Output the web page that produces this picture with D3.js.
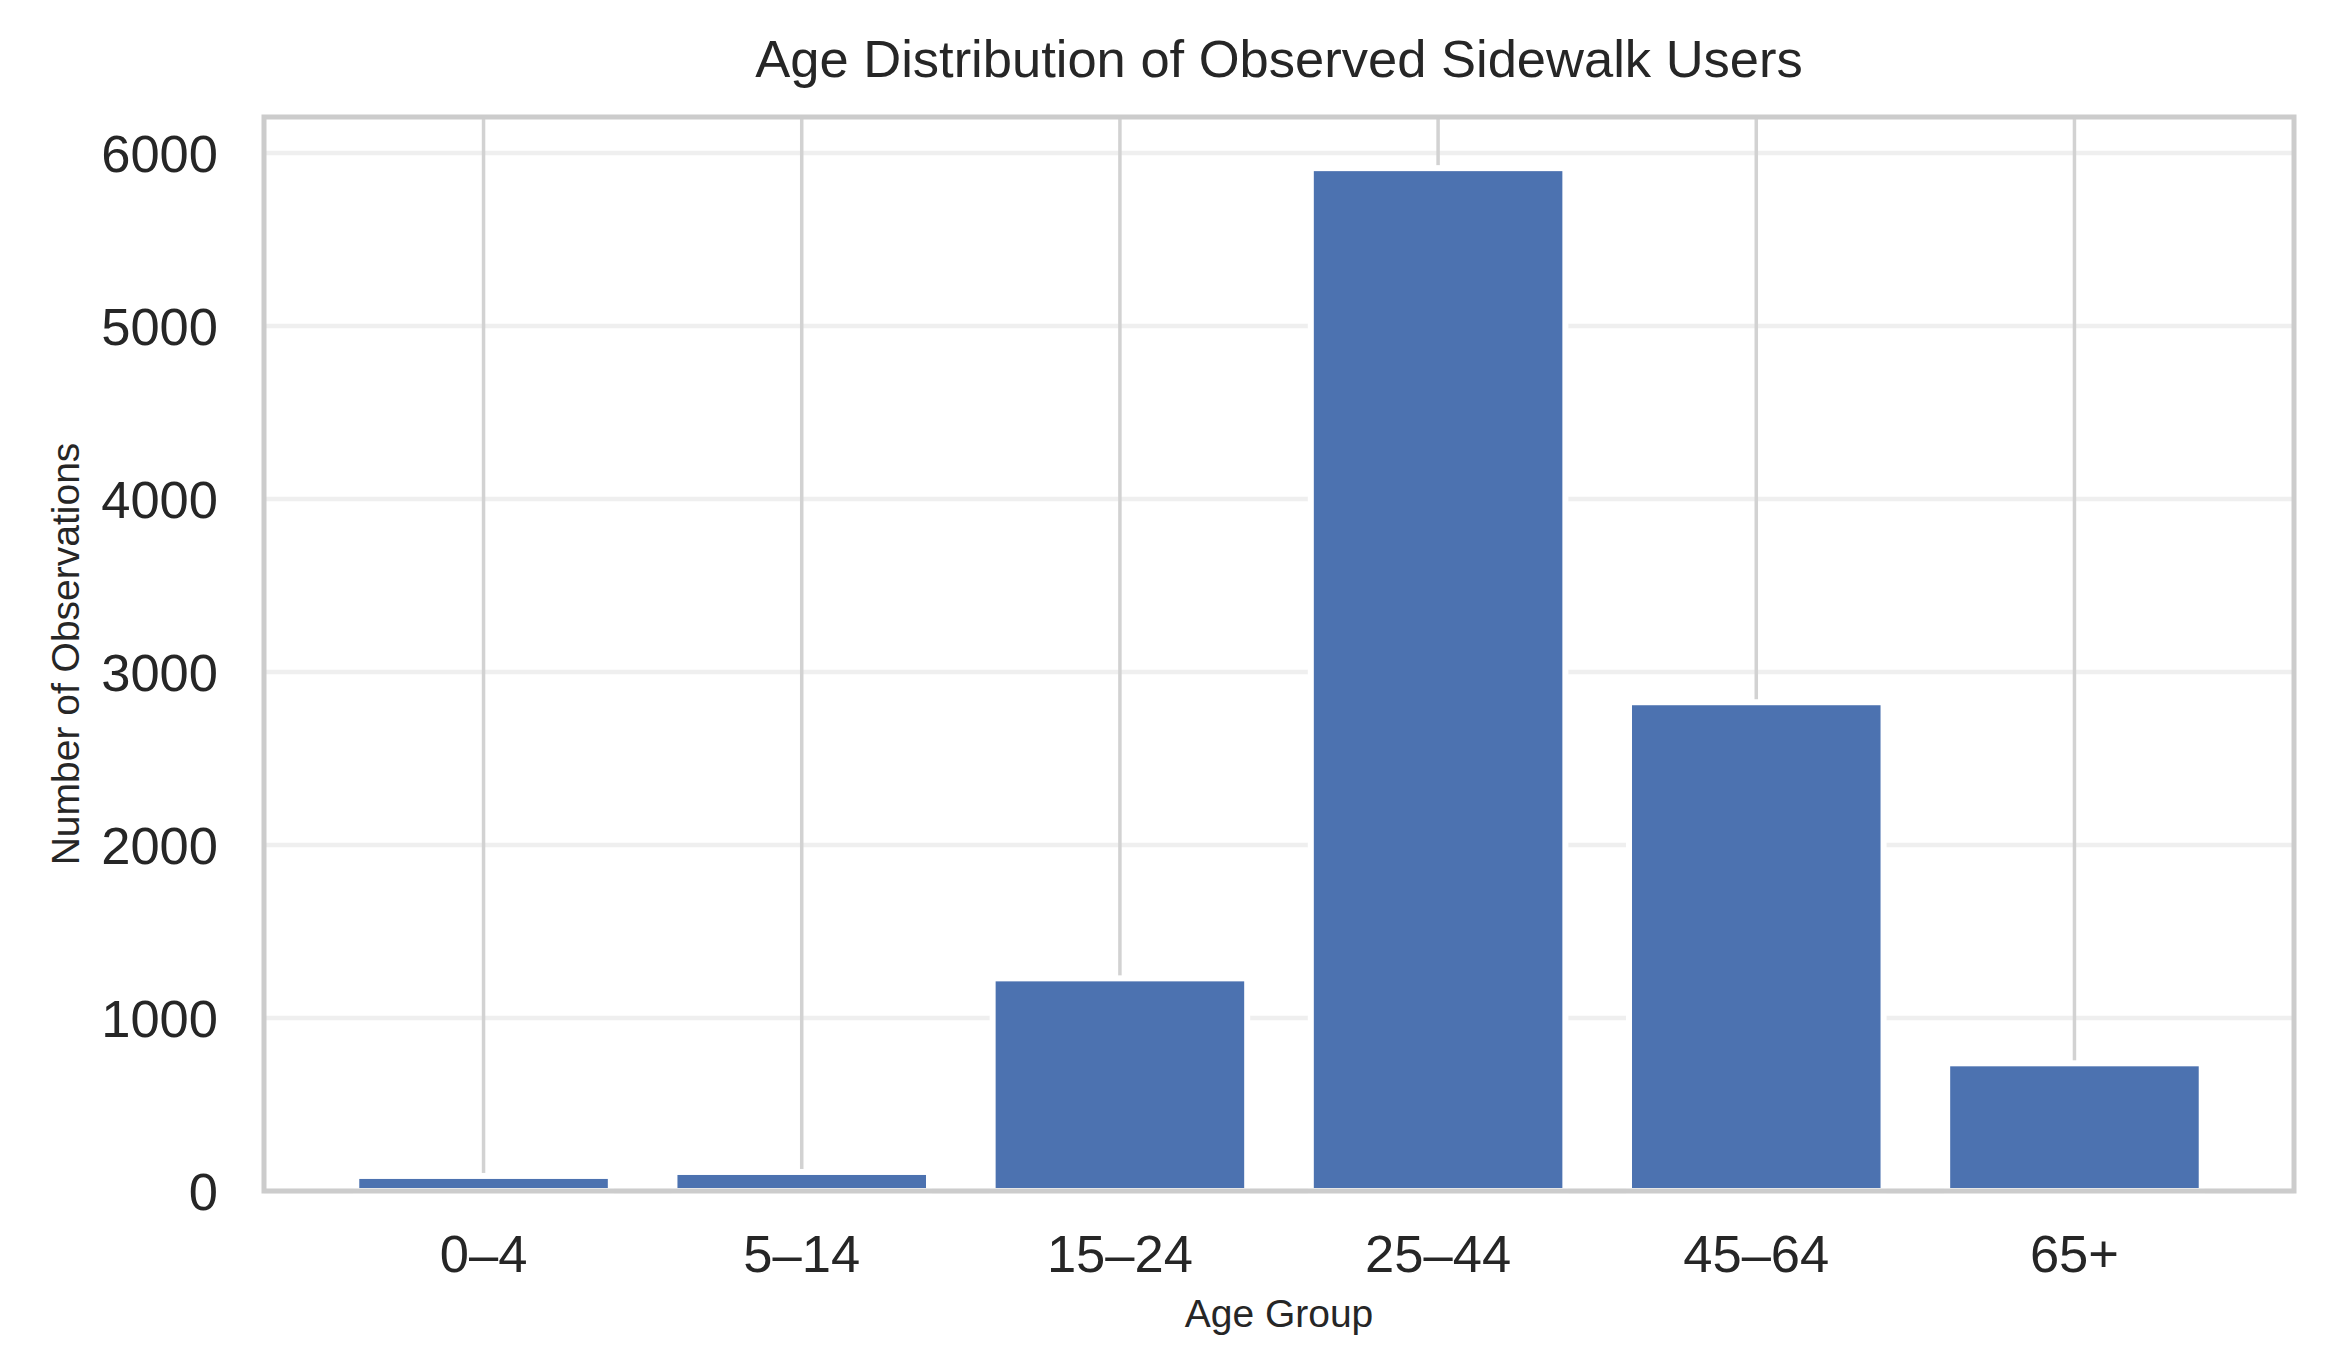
<!DOCTYPE html>
<html>
<head>
<meta charset="utf-8">
<script src="https://cdn.jsdelivr.net/npm/d3@7"></script>
<style>
  body { margin: 0; background: #fff; }
  text { font-family: "Liberation Sans", Arial, sans-serif; fill: #262626; }
</style>
</head>
<body>
<div id="chart"></div>
<script>
const width = 2336, height = 1361;

// data
const ageGroups = ["0–4", "5–14", "15–24", "25–44", "45–64", "65+"];
const observations = [87, 110, 1229, 5912, 2825, 738];
const yTicks = [0, 1000, 2000, 3000, 4000, 5000, 6000];

const titleText = "Age Distribution of Observed Sidewalk Users";
const xLabel = "Age Group";
const yLabel = "Number of Observations";

const margin = { top: 117, right: 42, bottom: 170, left: 264 };
const plotW = width - margin.left - margin.right;
const plotH = height - margin.top - margin.bottom;

let svg = d3.select('#chart')
    .append('svg')
      .attr('width', width)
      .attr('height', height);

svg.append('rect')
    .attr('width', width)
    .attr('height', height)
    .attr('fill', '#fff');

let g = svg.append('g')
    .attr('transform', `translate(${margin.left},${margin.top})`);

// matplotlib style auto limits: 5% headroom over the tallest bar
const x = d3.scaleBand()
    .domain(ageGroups)
    .range([0, plotW])
    .paddingInner(0.2)
    .paddingOuter(0.29);

const y = d3.scaleLinear()
    .domain([0, d3.max(observations) * 1.05])
    .range([plotH, 0]);

// horizontal grid (faint)
g.selectAll('.hgrid')
    .data(yTicks)
    .enter()
    .append('line')
      .attr('class', 'hgrid')
      .attr('x1', 0)
      .attr('x2', plotW)
      .attr('y1', d => y(d))
      .attr('y2', d => y(d))
      .attr('stroke', '#efefef')
      .attr('stroke-width', 4.5);

// vertical grid at category centres
g.selectAll('.vgrid')
    .data(ageGroups)
    .enter()
    .append('line')
      .attr('class', 'vgrid')
      .attr('x1', d => x(d) + x.bandwidth() / 2)
      .attr('x2', d => x(d) + x.bandwidth() / 2)
      .attr('y1', 0)
      .attr('y2', plotH)
      .attr('stroke', '#d2d2d2')
      .attr('stroke-width', 3.5);

// bars with white edges
g.selectAll('.bar')
    .data(ageGroups.map((a, i) => ({ group: a, value: observations[i] })))
    .enter()
    .append('rect')
      .attr('class', 'bar')
      .attr('x', d => x(d.group))
      .attr('width', x.bandwidth())
      .attr('y', d => y(d.value))
      .attr('height', d => plotH - y(d.value))
      .attr('fill', '#4c72b0')
      .attr('stroke', '#fff')
      .attr('stroke-width', 6);

// frame
g.append('rect')
    .attr('x', 0)
    .attr('y', 0)
    .attr('width', plotW)
    .attr('height', plotH)
    .attr('fill', 'none')
    .attr('stroke', '#cccccc')
    .attr('stroke-width', 5);

// axes (no tick marks, no domain line)
let yAxis = g.append('g')
    .call(d3.axisLeft(y).tickValues(yTicks).tickSize(0).tickPadding(46).tickFormat(d3.format('d')));
yAxis.select('.domain').remove();
yAxis.selectAll('text')
    .attr('dy', '0.36em')
    .style('font-size', '52.5px')
    .style('font-family', '"Liberation Sans", Arial, sans-serif')
    .attr('fill', '#262626');

let xAxis = g.append('g')
    .attr('transform', `translate(0,${plotH})`)
    .call(d3.axisBottom(x).tickSize(0).tickPadding(44));
xAxis.select('.domain').remove();
xAxis.selectAll('text')
    .attr('dy', '0.71em')
    .style('font-size', '52.5px')
    .style('font-family', '"Liberation Sans", Arial, sans-serif')
    .attr('fill', '#262626');

// title and axis labels
svg.append('text')
    .attr('x', margin.left + plotW / 2)
    .attr('y', 77)
    .attr('text-anchor', 'middle')
    .style('font-size', '52.5px')
    .text(titleText);

svg.append('text')
    .attr('x', margin.left + plotW / 2)
    .attr('y', 1327)
    .attr('text-anchor', 'middle')
    .style('font-size', '39px')
    .text(xLabel);

svg.append('text')
    .attr('transform', `translate(79,${margin.top + plotH / 2}) rotate(-90)`)
    .attr('text-anchor', 'middle')
    .style('font-size', '39px')
    .text(yLabel);
</script>
</body>
</html>
